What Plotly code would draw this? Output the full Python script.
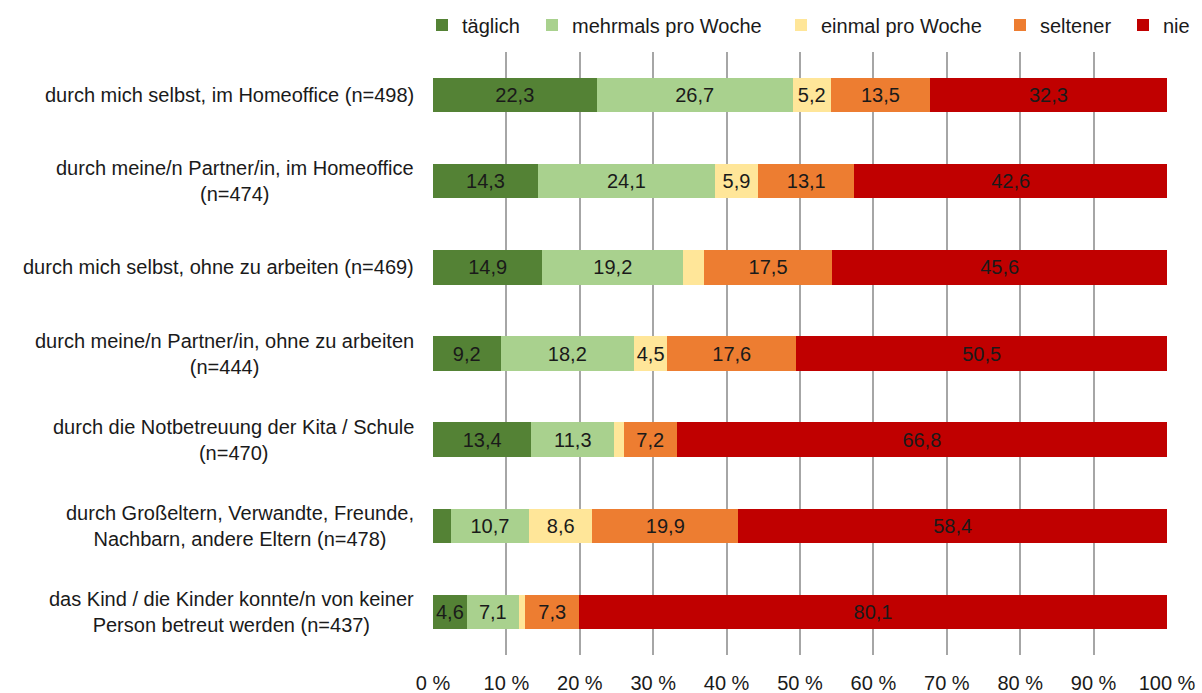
import plotly.graph_objects as go

categories = [
    "durch mich selbst, im Homeoffice (n=498)",
    "durch meine/n Partner/in, im Homeoffice<br>(n=474)",
    "durch mich selbst, ohne zu arbeiten (n=469)",
    "durch meine/n Partner/in, ohne zu arbeiten<br>(n=444)",
    "durch die Notbetreuung der Kita / Schule<br>(n=470)",
    "durch Großeltern, Verwandte, Freunde,<br>Nachbarn, andere Eltern (n=478)",
    "das Kind / die Kinder konnte/n von keiner<br>Person betreut werden (n=437)",
]

series_names = ["täglich", "mehrmals pro Woche", "einmal pro Woche", "seltener", "nie"]
taeglich = [22.3, 14.3, 14.9, 9.2, 13.4, 2.4, 4.6]
mehrmals = [26.7, 24.1, 19.2, 18.2, 11.3, 10.7, 7.1]
einmal = [5.2, 5.9, 2.8, 4.5, 1.3, 8.6, 0.9]
seltener = [13.5, 13.1, 17.5, 17.6, 7.2, 19.9, 7.3]
nie = [32.3, 42.6, 45.6, 50.5, 66.8, 58.4, 80.1]

tick_vals = [0, 10, 20, 30, 40, 50, 60, 70, 80, 90, 100]
tick_labels = ["0 %", "10 %", "20 %", "30 %", "40 %", "50 %", "60 %", "70 %", "80 %", "90 %", "100 %"]

colors = ["#548235", "#A9D18E", "#FFE699", "#ED7D31", "#C00000"]
legend_left_px = [422, 532, 781, 1000, 1123]
FONT = "Liberation Sans"
FS = 20
TXT = "#1a1a1a"

ids = list(range(len(categories)))
legend_ids = ["legend"] + [f"legend{k}" for k in range(2, len(series_names) + 1)]

fig = go.Figure()
for name, vals, col, lg in zip(series_names, [taeglich, mehrmals, einmal, seltener, nie], colors, legend_ids):
    texts = [f"{v:.1f}".replace(".", ",") if v >= 4 else "" for v in vals]
    fig.add_trace(go.Bar(
        name=name, y=ids, x=vals, orientation="h", legend=lg,
        marker=dict(color=col, line=dict(width=0)),
        text=texts, textposition="inside", insidetextanchor="middle",
        textangle=0, constraintext="none",
        textfont=dict(family=FONT, size=FS, color=TXT),
        hoverinfo="x+name",
    ))

for i, c in enumerate(categories):
    fig.add_annotation(
        x=0, xref="paper", y=i, yref="y", text=c, showarrow=False,
        xanchor="right", yanchor="middle", align="center", xshift=-17,
        font=dict(family=FONT, size=FS, color=TXT),
    )

legend_layouts = {}
for lg, px in zip(legend_ids, legend_left_px):
    legend_layouts[lg] = dict(
        orientation="h", xref="container", yref="container",
        x=px / 1202, xanchor="left", y=1 - 25 / 693, yanchor="middle",
        font=dict(family=FONT, size=FS, color=TXT),
    )

fig.update_layout(
    barmode="stack",
    bargap=0.6,
    width=1202, height=693,
    margin=dict(l=433, r=35, t=52, b=38, autoexpand=False),
    plot_bgcolor="white", paper_bgcolor="white",
    font=dict(family=FONT, size=FS, color=TXT),
    showlegend=True,
    **legend_layouts,
)
fig.update_xaxes(
    range=[0, 100], tickvals=tick_vals, ticktext=tick_labels,
    showgrid=True, gridcolor="#a6a6a6", gridwidth=1.5,
    zeroline=False, showline=False, ticks="",
    ticklabelstandoff=14,
    tickfont=dict(family=FONT, size=FS, color=TXT),
)
fig.update_yaxes(
    range=[6.5, -0.5], showticklabels=False, showgrid=False, zeroline=False,
    tickvals=ids,
)

fig.write_html("out.html", config={"displayModeBar": False},
               post_script="document.body.style.margin='0';")
